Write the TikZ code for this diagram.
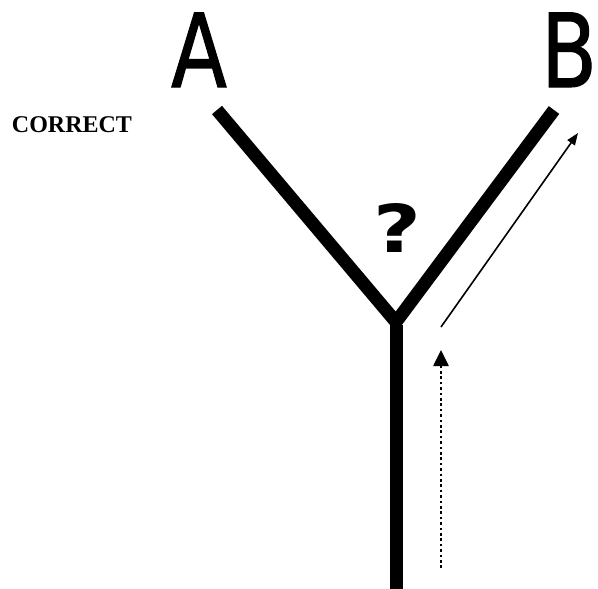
\documentclass[tikz,border=0pt]{standalone}
\usepackage{fontspec}
\newfontfamily\labelfont{DejaVu Sans}[FakeBold=1.2]
\newfontfamily\qfont{DejaVu Sans Bold}
\newfontfamily\corrfont{Liberation Serif Bold}
\usetikzlibrary{arrows.meta}
\tikzset{
  branch/.style={line width=13pt, line cap=butt, line join=miter},
  bigletter/.style={font=\labelfont\fontsize{102}{102}\selectfont, inner sep=0pt, anchor=base, xscale=0.8},
  thinarrow/.style={line width=1.6pt, -{Triangle[length=12pt,width=9pt]}},
  dotarrow/.style={line width=2.6pt, dash pattern=on 2.6pt off 2.8pt, -{Triangle[length=16pt,width=15pt]}}
}
\begin{document}
\begin{tikzpicture}[x=1pt,y=-1pt]
\useasboundingbox (0,0) rectangle (598,589);
% coordinates
\coordinate (la) at (217,110);
\coordinate (ra) at (554,110);
\coordinate (j) at (396,322);
\coordinate (jb) at (396,325);
\coordinate (bot) at (396,589);
\coordinate (s1) at (441,327);
\coordinate (e1) at (578,133);
\coordinate (s2) at (441,568);
\coordinate (e2) at (441,350);
% Y shape
\draw[branch] (la) -- (j) -- (ra);
\draw[branch] (jb) -- (bot);
% labels
\node[bigletter] (A) at (199,87) {A};
\node[bigletter] (B) at (569,87) {B};
\node[font=\corrfont\fontsize{24}{24}\selectfont, inner sep=0pt] (corr) at (72,125) {CORRECT};
\node[font=\qfont\fontsize{66}{66}\selectfont, inner sep=0pt, xscale=1.25] (q) at (397,228) {?};
% arrows
\draw[thinarrow] (s1) -- (e1);
\draw[dotarrow] (s2) -- (e2);
\end{tikzpicture}
\end{document}
